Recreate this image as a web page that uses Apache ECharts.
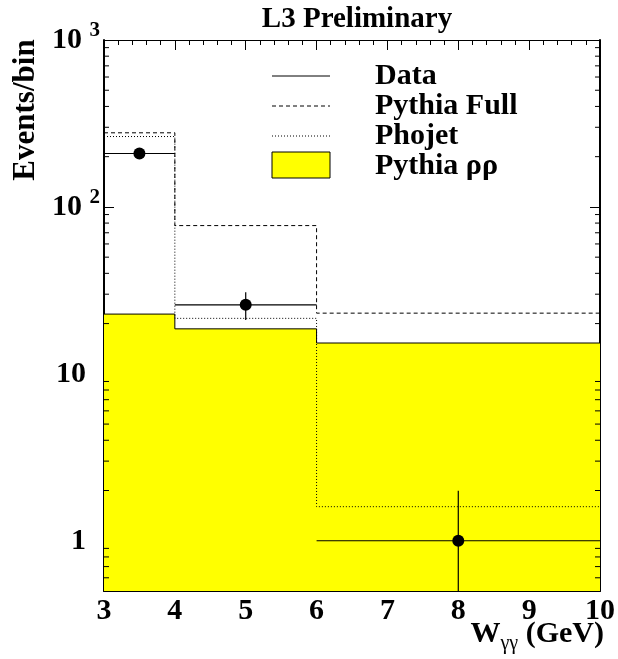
<!DOCTYPE html>
<html>
<head>
<meta charset="utf-8">
<script src="https://cdn.jsdelivr.net/npm/echarts@6/dist/echarts.min.js"></script>
<style>
html,body{margin:0;padding:0;background:#fff;}
#c{width:618px;height:659px;}
</style>
</head>
<body>
<div id="c"></div>
<script>
// ---- data ----
const binEdges = [3, 4, 6, 10];
const dataCenters = [3.5, 5, 8];
const dataValues = [209, 25.9, 1.0];
const dataErrLow = [195, 21.0, 0.0];
const dataErrHigh = [224, 30.8, 1.99];
const pythiaFull = [278, 77.3, 23.1];
const phojet = [264, 21.5, 1.60];
const pythiaRhoRho = [22.8, 18.6, 15.3];
const yMinorMultipliers = [2, 3, 4, 5, 6, 7, 8, 9];
const seriesNames = ['Data', 'Pythia Full', 'Phojet', 'Pythia ρρ'];

const X_MIN = 3, X_MAX = 10, Y_MIN = 0.5, Y_MAX = 1000;
const FONT = '"Liberation Serif", "DejaVu Serif", serif';

function stepPoints(vals) {
  const pts = [];
  for (let i = 0; i < vals.length; i++) pts.push([binEdges[i], vals[i]]);
  pts.push([binEdges[binEdges.length - 1], vals[vals.length - 1]]);
  return pts;
}

// minor tick values for log axis
const yMinorTicks = [];
[0.1, 1, 10, 100].forEach(d => yMinorMultipliers.forEach(m => {
  const v = +(d * m).toPrecision(3);
  if (v > Y_MIN && v < Y_MAX) yMinorTicks.push(v);
}));

const errData = dataCenters.map((c, i) => [c, dataValues[i], dataErrLow[i], dataErrHigh[i], binEdges[i], binEdges[i + 1]]);

function isDecade(v) {
  const l = Math.log10(v);
  return Math.abs(l - Math.round(l)) < 1e-6;
}

const chart = echarts.init(document.getElementById('c'), null, {renderer: 'canvas'});

const option = {
  animation: false,
  backgroundColor: '#fff',
  title: {
    text: 'L3 Preliminary',
    left: 352, top: 0, textAlign: 'center',
    textStyle: {fontFamily: FONT, fontWeight: 'bold', fontSize: 29, color: '#000'}
  },
  grid: {left: 104, right: 14, top: 40, bottom: 68, containLabel: false},
  xAxis: [{
    type: 'value', min: X_MIN, max: X_MAX, interval: 1, position: 'bottom',
    axisLine: {show: true, onZero: false, lineStyle: {color: '#000', width: 2}},
    axisTick: {show: true, inside: true, length: 10, lineStyle: {color: '#000', width: 1}},
    minorTick: {show: true, splitNumber: 5, length: 5, lineStyle: {color: '#000', width: 1}},
    splitLine: {show: false},
    axisLabel: {margin: 5, fontFamily: FONT, fontWeight: 'bold', fontSize: 30, color: '#000'}
  }, {
    type: 'value', min: X_MIN, max: X_MAX, interval: 1, position: 'top',
    axisLine: {show: true, onZero: false, lineStyle: {color: '#000', width: 1}},
    axisTick: {show: true, inside: true, length: 10, lineStyle: {color: '#000', width: 1}},
    minorTick: {show: true, splitNumber: 5, length: 5, lineStyle: {color: '#000', width: 1}},
    splitLine: {show: false},
    axisLabel: {show: false}
  }],
  yAxis: [{
    type: 'log', logBase: 10, min: Y_MIN, max: Y_MAX, position: 'left',
    axisLine: {show: true, onZero: false, lineStyle: {color: '#000', width: 2}},
    axisTick: {show: true, inside: true, length: 10, lineStyle: {color: '#000', width: 1}},
    splitLine: {show: false},
    axisLabel: {
      margin: 4,
      formatter: function (v) {
        if (!isDecade(v)) return '';
        const e = Math.round(Math.log10(v));
        if (e >= 2) return '{b|10 }{s|' + e + '}';
        return '{p|' + Math.round(v) + '}';
      },
      rich: {
        b: {fontFamily: FONT, fontWeight: 'bold', fontSize: 30, color: '#000', verticalAlign: 'middle', lineHeight: 40},
        s: {fontFamily: FONT, fontWeight: 'bold', fontSize: 21, color: '#000', verticalAlign: 'top', lineHeight: 14},
        p: {fontFamily: FONT, fontWeight: 'bold', fontSize: 30, color: '#000', padding: [0, 14, 0, 0]}
      }
    }
  }, {
    type: 'log', logBase: 10, min: Y_MIN, max: Y_MAX, position: 'right',
    axisLine: {show: true, onZero: false, lineStyle: {color: '#000', width: 2}},
    axisTick: {show: true, inside: true, length: 10, lineStyle: {color: '#000', width: 1}},
    splitLine: {show: false},
    axisLabel: {show: false}
  }],
  graphic: [
    {type: 'text', x: 26, y: 110, rotation: Math.PI / 2,
     style: {text: 'Events/bin', font: 'bold 31px ' + FONT, fill: '#000', align: 'center', verticalAlign: 'middle'}},
    // legend
    {type: 'line', shape: {x1: 272, y1: 76, x2: 330, y2: 76}, style: {stroke: '#000', lineWidth: 1}},
    {type: 'line', shape: {x1: 272, y1: 106, x2: 330, y2: 106}, style: {stroke: '#000', lineWidth: 1, lineDash: [4, 3]}},
    {type: 'line', shape: {x1: 272, y1: 136, x2: 330, y2: 136}, style: {stroke: '#000', lineWidth: 1, lineDash: [1, 2]}},
    {type: 'rect', shape: {x: 272, y: 152, width: 58, height: 26}, style: {fill: '#ffff00', stroke: '#000', lineWidth: 1}},
    {type: 'text', x: 375, y: 76, style: {text: seriesNames[0], font: 'bold 30px ' + FONT, fill: '#000', verticalAlign: 'middle'}},
    {type: 'text', x: 375, y: 106, style: {text: seriesNames[1], font: 'bold 30px ' + FONT, fill: '#000', verticalAlign: 'middle'}},
    {type: 'text', x: 375, y: 136, style: {text: seriesNames[2], font: 'bold 30px ' + FONT, fill: '#000', verticalAlign: 'middle'}},
    {type: 'text', x: 375, y: 166, style: {text: seriesNames[3], font: 'bold 30px ' + FONT, fill: '#000', verticalAlign: 'middle'}},
    // x axis title
    {type: 'text', x: 604, y: 619, style: {
      text: '{w|W}{g|γγ}{w| (GeV)}', align: 'right', verticalAlign: 'top',
      rich: {
        w: {fontFamily: FONT, fontWeight: 'bold', fontSize: 30, fill: '#000', color: '#000', verticalAlign: 'top', lineHeight: 30},
        g: {fontFamily: FONT, fontSize: 20, fill: '#000', color: '#000', verticalAlign: 'top', lineHeight: 20, padding: [15, 0, 0, 0]}
      }
    }}
  ],
  series: [
    {
      name: seriesNames[3], type: 'line', step: 'end', symbol: 'none',
      xAxisIndex: 0, yAxisIndex: 0,
      data: stepPoints(pythiaRhoRho),
      lineStyle: {color: '#000', width: 1},
      areaStyle: {color: '#ffff00', opacity: 1, origin: 'start'},
      z: 1
    },
    {
      name: seriesNames[1], type: 'line', step: 'end', symbol: 'none',
      data: stepPoints(pythiaFull),
      lineStyle: {color: '#000', width: 1, type: [4, 3]},
      z: 3
    },
    {
      name: seriesNames[2], type: 'line', step: 'end', symbol: 'none',
      data: stepPoints(phojet),
      lineStyle: {color: '#000', width: 1, type: [1, 2]},
      z: 3
    },
    {
      name: seriesNames[0] + ' errors', type: 'custom',
      data: errData,
      encode: {x: 0, y: 1},
      z: 4,
      renderItem: function (params, api) {
        const c = api.value(0), v = api.value(1);
        const lo = Math.max(api.value(2), Y_MIN), hi = api.value(3);
        const xl = api.value(4), xh = api.value(5);
        const a = api.coord([xl, v]), b = api.coord([xh, v]);
        const p = api.coord([c, lo]), q = api.coord([c, hi]);
        return {type: 'group', children: [
          {type: 'line', shape: {x1: a[0], y1: a[1], x2: b[0], y2: b[1]}, style: {stroke: '#000', lineWidth: 1.2}},
          {type: 'line', shape: {x1: p[0], y1: p[1], x2: q[0], y2: q[1]}, style: {stroke: '#000', lineWidth: 1.2}}
        ]};
      }
    },
    {
      name: seriesNames[0], type: 'scatter',
      data: dataCenters.map((c, i) => [c, dataValues[i]]),
      symbol: 'circle', symbolSize: 12,
      itemStyle: {color: '#000', opacity: 1},
      z: 5
    },
    {
      name: 'y minor ticks', type: 'custom', silent: true,
      data: yMinorTicks.map(v => [X_MIN, v]),
      encode: {x: 0, y: 1},
      z: 6,
      renderItem: function (params, api) {
        const v = api.value(1);
        const l = api.coord([X_MIN, v]), r = api.coord([X_MAX, v]);
        return {type: 'group', children: [
          {type: 'line', shape: {x1: l[0], y1: l[1], x2: l[0] + 5, y2: l[1]}, style: {stroke: '#000', lineWidth: 1}},
          {type: 'line', shape: {x1: r[0], y1: r[1], x2: r[0] - 5, y2: r[1]}, style: {stroke: '#000', lineWidth: 1}}
        ]};
      }
    }
  ]
};
chart.setOption(option);
</script>
</body>
</html>
